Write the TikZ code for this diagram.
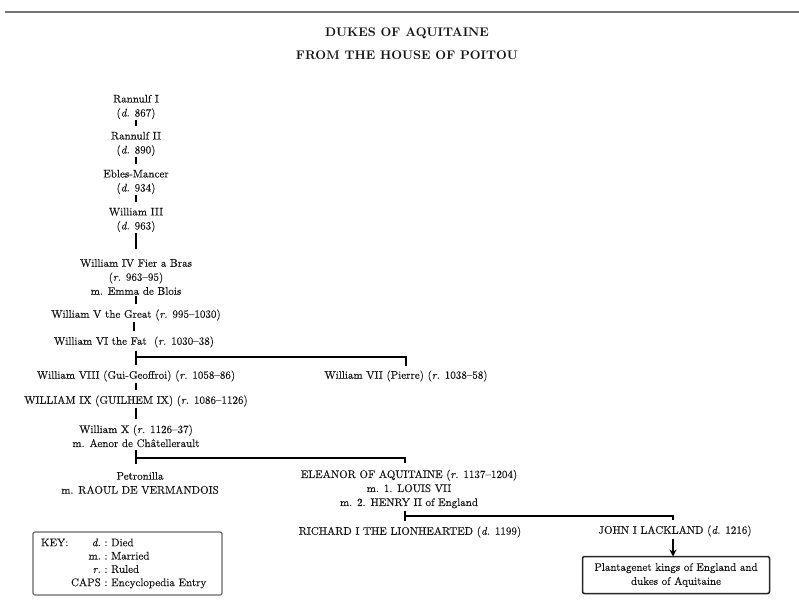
\documentclass[tikz,border=0pt]{standalone}
\usepackage{fontspec}
\setmainfont{lmroman10-regular}[Extension=.otf, FakeBold=0.25, BoldFont=lmroman10-bold, ItalicFont=lmroman10-italic, BoldFeatures={FakeBold=0}, ItalicFeatures={FakeBold=0.25}]
\usetikzlibrary{arrows.meta,calc}
\newcommand{\ab}[1]{\textit{#1}}
\begin{document}
\begin{tikzpicture}[x=1pt,y=-1pt,
  every node/.style={inner sep=0pt, outer sep=0pt, font=\fontsize{11}{14}\selectfont, align=center, text=black!92},
  titletext/.style={font=\fontsize{12.5}{15}\selectfont\bfseries},
  tick/.style={line width=1.6pt, shorten <=1pt, shorten >=6pt},
  longtick/.style={line width=2.2pt, shorten <=1pt, shorten >=10pt},
  br/.style={line width=1.7pt},
  keyframe/.style={draw=black!60, line width=1.2pt, rounded corners=2pt},
  planframe/.style={draw=black!85, line width=1.5pt, rounded corners=2pt},
  arr/.style={line width=1.5pt, -{Stealth[length=7pt,width=7pt]}}
]
\useasboundingbox (0,0) rectangle (799,609);
% top rule
\coordinate (ruleL) at (5,12);
\coordinate (ruleR) at (799,12);
\draw[line width=2.6pt, black!55] (ruleL) -- (ruleR);
% titles
\node[titletext] (t1) at (407,33) {DUKES OF AQUITAINE};
\node[titletext] (t2) at (407,55) {FROM THE HOUSE OF POITOU};
% main line
\node (r1) at (136,107) {Rannulf I\\(\ab{d.} 867)};
\node (r2) at (136,144) {Rannulf II\\(\ab{d.} 890)};
\node (eb) at (136,182) {Ebles-Mancer\\(\ab{d.} 934)};
\node (w3) at (136,220) {William III\\(\ab{d.} 963)};
\node (w4) at (136,277) {William IV Fier a Bras\\(\ab{r.} 963–95)\\m. Emma de Blois};
\node (w5) at (136,315) {William V the Great (\ab{r.} 995–1030)};
\node (w6) at (134,342) {William VI the Fat\ \ (\ab{r.} 1030–38)};
\node (w8) at (136,376) {William VIII (Gui-Geoffroi) (\ab{r.} 1058–86)};
\node (w7) at (406,376) {William VII (Pierre) (\ab{r.} 1038–58)};
\node (w9) at (136,401) {WILLIAM IX (GUILHEM IX) (\ab{r.} 1086–1126)};
\node (w10) at (136,436) {William X (\ab{r.} 1126–37)\\m. Aenor de Châtellerault};
\node (pet) at (140,483) {Petronilla\\m. RAOUL DE VERMANDOIS};
\node (ele) at (409,489) {ELEANOR OF AQUITAINE (\ab{r.} 1137–1204)\\m. 1. LOUIS VII\\m. 2. HENRY II of England};
\node (rich) at (410,532) {RICHARD I THE LIONHEARTED (\ab{d.} 1199)};
\node (john) at (675,531) {JOHN I LACKLAND (\ab{d.} 1216)};
\node[planframe, minimum width=187pt, minimum height=37pt] (plan) at (676,575) {Plantagenet kings of England and\\dukes of Aquitaine};
\node[keyframe, minimum width=189pt, minimum height=63pt, text width=173pt, align=left] (key) at (127.5,563.5)
  {\setlength{\tabcolsep}{0pt}\renewcommand{\arraystretch}{0.95}%
   \begin{tabular}{@{}p{30pt}r@{\ :\ }l@{}}
   KEY: & \ab{d.} & Died\\
        & m. & Married\\
        & \ab{r.} & Ruled\\
        & CAPS & Encyclopedia Entry
   \end{tabular}};
% ticks
\draw[tick] (r1) -- (r2);
\draw[tick] (r2) -- (eb);
\draw[tick] (eb) -- (w3);
\draw[longtick] (w3) -- (w4);
\draw[tick] (w4) -- (w5);
\draw[tick] (w5.south -| w6.north) -- (w6.north);
\draw[tick] (w8) -- (w9);
\draw[tick] (w9) -- (w10);
% bracket William VI -> VIII / VII
\coordinate (j1) at (136,357);
\draw[br] ([yshift=-3pt]w6.south -| j1) -- ([yshift=6pt]w8.north -| j1);
\draw[br] (j1) -| ([yshift=5pt]w7.north);
% bracket William X -> Petronilla / Eleanor
\coordinate (j2) at (136,458);
\coordinate (j2r) at (405,458);
\draw[br] ([yshift=-3pt]w10.south -| j2) -- ([yshift=8pt]pet.north -| j2);
\draw[br] (j2) -- (j2r) -- ([yshift=7pt]ele.north -| j2r);
% bracket Eleanor -> Richard / John
\coordinate (j3) at (405,516);
\coordinate (j3r) at (673,516);
\draw[br] ([yshift=-3pt]ele.south -| j3) -- ([yshift=6pt]rich.north -| j3);
\draw[br] (j3) -- (j3r) -- ([yshift=6pt]john.north -| j3r);
% arrow John -> Plantagenet box
\draw[arr] ([yshift=-2pt]john.south -| j3r) -- (plan.north -| j3r);
\end{tikzpicture}
\end{document}
